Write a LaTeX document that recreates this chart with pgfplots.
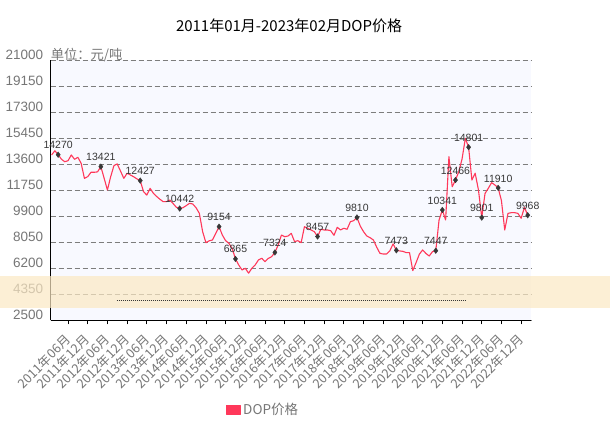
\documentclass[border=0pt]{standalone}
\usepackage{fontspec}
\setmainfont{Liberation Sans}
\newfontfamily\cjk{Noto Sans CJK SC}
\usepackage{pgfplots}
\pgfplotsset{compat=1.18}
\usepackage{pgfplotstable}
\definecolor{dopred}{RGB}{255,56,90}
\definecolor{bgblue}{RGB}{248,249,255}
\definecolor{gridgray}{RGB}{125,125,125}
\definecolor{labelgray}{RGB}{118,118,118}
\definecolor{markgray}{RGB}{55,55,55}
\definecolor{bandcol}{RGB}{251,232,195}

\pgfplotstableread{
x y
0 14250
1 14550
2 14270
3 13950
4 13770
5 13840
6 14250
7 13940
8 14085
9 13660
10 12590
11 12710
12 13020
13 13020
14 13050
15 13421
16 12600
17 11760
18 12710
19 13500
20 13610
21 13100
22 12590
23 12950
24 12830
25 12700
26 12550
27 12427
28 11640
29 11400
30 11880
31 11530
32 11300
33 11100
34 10930
35 10930
36 11050
37 10800
38 10530
39 10442
40 10500
41 10650
42 10815
43 10766
44 10500
45 10100
46 8800
47 8015
48 8150
49 8210
50 8683
51 9154
52 8560
53 8160
54 7970
55 7600
56 6865
57 6430
58 6075
59 6195
60 5850
61 6200
62 6430
63 6790
64 6910
65 6670
66 6900
67 7020
68 7324
69 7850
70 8560
71 8440
72 8490
73 8680
74 8090
75 8160
76 8015
77 9150
78 9040
79 8920
80 8800
81 8457
82 8970
83 8920
84 8920
85 8870
86 8540
87 9110
88 8920
89 9040
90 8970
91 9510
92 9580
93 9810
94 9200
95 8800
96 8490
97 8370
98 8210
99 7700
100 7260
101 7210
102 7210
103 7430
104 7930
105 7473
106 7430
107 7400
108 7310
109 7310
110 6030
111 6600
112 7200
113 7500
114 7250
115 7070
116 7380
117 7447
118 9630
119 10341
120 9630
121 14130
122 11990
123 12466
124 13060
125 13960
126 15430
127 14801
128 12470
129 12950
130 11760
131 9801
132 11520
133 11880
134 12280
135 12120
136 11910
137 11000
138 8920
139 10100
140 10150
141 10150
142 10100
143 9750
144 10530
145 9968
}\dopdata

\pgfplotstableread{
x y lab
2 14270 14270
15 13421 13421
27 12427 12427
39 10442 10442
51 9154 9154
56 6865 6865
68 7324 7324
81 8457 8457
93 9810 9810
105 7473 7473
117 7447 7447
119 10341 10341
123 12466 12466
127 14801 14801
131 9801 9801
136 11910 11910
145 9968 9968
}\doplabels

\pgfplotstableread{
x y
19.8 3943
126.2 3943
}\dotline

\begin{document}
\begin{tikzpicture}
\begin{axis}[
  set layers,
  at={(50.6bp,115.7bp)}, anchor=south west,
  width=480.4bp, height=260.3bp, scale only axis,
  xmin=-0.3, xmax=146, ymin=2500, ymax=21000,
  axis x line=bottom, axis y line=left,
  axis line style={-, black, line width=1.3bp},
  axis background/.style={fill=bgblue},
  ytick={2500,4350,6200,8050,9900,11750,13600,15450,17300,19150,21000},
  scaled y ticks=false,
  /pgf/number format/1000 sep={},
  /pgf/number format/assume math mode=true,
  yticklabel style={font=\fontsize{13.5bp}{15bp}\selectfont, text=labelgray, yshift=5bp},
  ytick style={draw=none},
  ymajorgrids,
  grid style={gridgray, line width=0.8bp, dash pattern=on 5bp off 3bp},
  xtick={5,11,...,143},
  xticklabels={2011年06月,2011年12月,2012年06月,2012年12月,2013年06月,2013年12月,2014年06月,2014年12月,2015年06月,2015年12月,2016年06月,2016年12月,2017年06月,2017年12月,2018年06月,2018年12月,2019年06月,2019年12月,2020年06月,2020年12月,2021年06月,2021年12月,2022年06月,2022年12月},
  xticklabel style={font=\cjk\fontsize{12.8bp}{14bp}\selectfont, text=labelgray, rotate=45, anchor=east, inner sep=0bp},
  xticklabel shift=13bp,
  tick align=outside, major tick length=4bp,
  xtick style={black, line width=0.8bp},
  clip=false,
  title={\cjk 2011年01月-2023年02月DOP价格},
  every axis title/.style={at={(0.4963,1.1306)}, anchor=center, font=\fontsize{15bp}{17bp}\selectfont, text=black},
  ylabel={\cjk 单位：元/吨},
  every axis y label/.style={at={(0,1.0192)}, anchor=west, inner sep=0bp, font=\fontsize{13.3bp}{15bp}\selectfont, text=labelgray},
  legend style={at={(0.442,-0.3446)}, anchor=center, draw=none, fill=none, font=\cjk\fontsize{13.5bp}{15bp}\selectfont, text=labelgray},
]
\addplot[dopred, line width=1.1bp, line join=round,
  legend image code/.code={\fill[dopred] (0bp,-4.2bp) rectangle (14.3bp,4.2bp);}]
  table[x=x, y=y] {\dopdata};
\addlegendentry{DOP价格}
\addplot[only marks, mark=diamond*, mark size=2.8bp, mark options={fill=markgray, draw=markgray},
  nodes near coords, point meta=explicit symbolic,
  nodes near coords style={font=\fontsize{10.5bp}{12bp}\selectfont, text=markgray, anchor=center, yshift=9.5bp},
  forget plot]
  table[x=x, y=y, meta=lab] {\doplabels};
\fill[bandcol, opacity=0.7] (rel axis cs:-0.1053,0.0473) rectangle (rel axis cs:1.1645,0.1702);
\addplot[markgray, line width=0.6bp, dash pattern=on 1bp off 1bp, forget plot] table[x=x, y=y] {\dotline};
\end{axis}
\pgfresetboundingbox
\path[use as bounding box] (0,0) rectangle (610bp,436bp);
\end{tikzpicture}
\end{document}
